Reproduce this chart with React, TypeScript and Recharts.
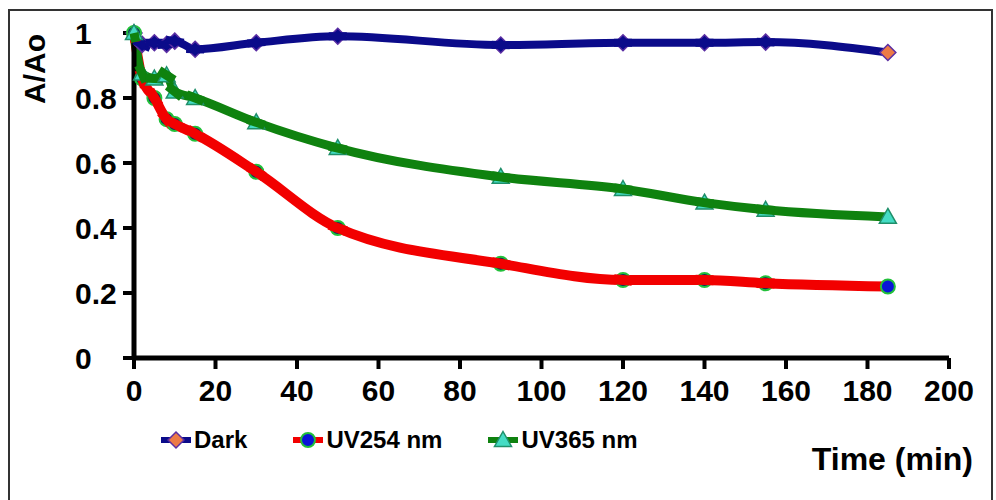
import { LineChart, Line, XAxis, YAxis } from 'recharts'

// sampling times (min)
const times = [0, 2, 5, 8, 10, 15, 30, 50, 90, 120, 140, 155, 185]

// A/Ao for each condition
const dark = [1.0, 0.965, 0.97, 0.965, 0.975, 0.95, 0.97, 0.99, 0.963, 0.97, 0.97, 0.972, 0.94]
const uv254 = [1.0, 0.86, 0.8, 0.735, 0.72, 0.69, 0.573, 0.4, 0.29, 0.24, 0.24, 0.23, 0.22]
const uv365 = [1.0, 0.875, 0.86, 0.87, 0.82, 0.8, 0.725, 0.646, 0.557, 0.52, 0.478, 0.456, 0.434]

const xTicks = [0, 20, 40, 60, 80, 100, 120, 140, 160, 180, 200]
const yTicks = [0, 0.2, 0.4, 0.6, 0.8, 1]

const FONT = '"Liberation Sans", Arial, sans-serif'

type Shape = 'diamond' | 'circle' | 'triangle'

type Series = {
  key: string
  name: string
  color: string
  width: number
  shape: Shape
  fill: string
  edge: string
  under: string
}

const series: Series[] = [
  { key: 'dark', name: 'Dark', color: '#0b0b8a', width: 8, shape: 'diamond', fill: '#ec7a46', edge: '#5b2ea3', under: '#0b0b8a' },
  { key: 'uv254', name: 'UV254 nm', color: '#f20000', width: 10, shape: 'circle', fill: '#0a14d8', edge: '#22c03a', under: '#0a2a60' },
  { key: 'uv365', name: 'UV365 nm', color: '#0f820f', width: 9, shape: 'triangle', fill: '#44dcc4', edge: '#1f8f6a', under: '#44dcc4' },
]

const data = times.map((t, i) => ({ t, dark: dark[i], uv254: uv254[i], uv365: uv365[i] }))

function marker(shape: Shape, cx: number, cy: number, fill: string, edge: string, k?: string) {
  if (shape === 'diamond') {
    const r = 8
    return <path key={k} d={`M${cx},${cy - r}L${cx + r},${cy}L${cx},${cy + r}L${cx - r},${cy}Z`} fill={fill} stroke={edge} strokeWidth={1.5} />
  }
  if (shape === 'circle') {
    return <circle key={k} cx={cx} cy={cy} r={7} fill={fill} stroke={edge} strokeWidth={2} />
  }
  const r = 8.5
  return <path key={k} d={`M${cx},${cy - r}L${cx + r},${cy + r * 0.75}L${cx - r},${cy + r * 0.75}Z`} fill={fill} stroke={edge} strokeWidth={1.5} />
}

// markers look half-buried under the thick line, except the last one
const seriesDot = (s: Series) => (p: any) => {
  const { cx, cy, index, points } = p
  if (index === times.length - 1) return marker(s.shape, cx, cy, s.fill, s.edge, `d-${s.key}-${index}`)
  const prev = points?.[Math.max(index - 1, 0)] ?? { x: cx, y: cy }
  const next = points?.[index + 1] ?? { x: cx + 1, y: cy }
  let dx = next.x - prev.x
  let dy = next.y - prev.y
  const len = Math.hypot(dx, dy) || 1
  dx /= len
  dy /= len
  const h = 9
  const back = index === 0 ? 0 : h
  return (
    <g key={`d-${s.key}-${index}`}>
      {marker(s.shape, cx, cy, s.under, s.edge)}
      <line x1={cx - dx * back} y1={cy - dy * back} x2={cx + dx * h} y2={cy + dy * h} stroke={s.color} strokeWidth={s.width} />
    </g>
  )
}

const YTick = (p: any) => {
  const v = p.payload.value
  const label = v === 0 || v === 1 ? String(v) : v.toFixed(1)
  return (
    <text x={p.x - 46} y={p.y} dy="0.36em" textAnchor="start" fontFamily={FONT} fontWeight="bold" fontSize={30} fill="#000">
      {label}
    </text>
  )
}

const XTick = (p: any) => (
  <text x={p.x} y={p.y} dy="0.71em" textAnchor="middle" fontFamily={FONT} fontWeight="bold" fontSize={30} fill="#000">
    {p.payload.value}
  </text>
)

function LegendIcon({ s }: { s: Series }) {
  return (
    <svg width={32} height={22} style={{ display: 'block' }}>
      <line x1={1} y1={11} x2={31} y2={11} stroke={s.color} strokeWidth={6} />
      {marker(s.shape, 16, 11, s.fill, s.edge)}
    </svg>
  )
}

export default function App() {
  return (
    <div style={{ position: 'absolute', left: 0, top: 0, width: 996, height: 500, background: '#fff' }}>
      <LineChart width={996} height={500} data={data} margin={{ top: 33, right: 47, left: 74, bottom: 112 }}>
        <XAxis
          dataKey="t"
          type="number"
          domain={[0, 200]}
          ticks={xTicks}
          interval={0}
          height={30}
          tickSize={11}
          tickMargin={11}
          axisLine={{ stroke: '#000', strokeWidth: 5 }}
          tickLine={{ stroke: '#000', strokeWidth: 4 }}
          tick={<XTick />}
        />
        <YAxis
          type="number"
          domain={[0, 1]}
          ticks={yTicks}
          interval={0}
          width={60}
          tickSize={11}
          tickMargin={2}
          axisLine={{ stroke: '#000', strokeWidth: 5 }}
          tickLine={{ stroke: '#000', strokeWidth: 4 }}
          tick={<YTick />}
        />
        {series.map((s) => (
          <Line
            key={s.key}
            name={s.name}
            type="monotone"
            dataKey={s.key}
            stroke={s.color}
            strokeWidth={s.width}
            strokeLinejoin="round"
            dot={seriesDot(s)}
            activeDot={false}
            isAnimationActive={false}
          />
        ))}
      </LineChart>

      <svg width={996} height={500} style={{ position: 'absolute', left: 0, top: 0, pointerEvents: 'none' }}>
        <rect x={9} y={10} width={983} height={500} fill="none" stroke="#333" strokeWidth={2} />
        <text
          transform="translate(45,69) rotate(-90)"
          textAnchor="middle"
          fontFamily={FONT}
          fontWeight="bold"
          fontSize={30}
          fill="#000"
        >
          A/Ao
        </text>
        <text x={973} y={470} textAnchor="end" fontFamily={FONT} fontWeight="bold" fontSize={32} fill="#000">
          Time (min)
        </text>
      </svg>

      <div
        style={{
          position: 'absolute',
          left: 160,
          top: 428,
          display: 'flex',
          alignItems: 'center',
          gap: 45,
          fontFamily: FONT,
          fontWeight: 'bold',
          fontSize: 24,
          lineHeight: '24px',
        }}
      >
        {series.map((s) => (
          <div key={s.key} style={{ display: 'flex', alignItems: 'center', gap: 2 }}>
            <LegendIcon s={s} />
            <span>{s.name}</span>
          </div>
        ))}
      </div>
    </div>
  )
}
